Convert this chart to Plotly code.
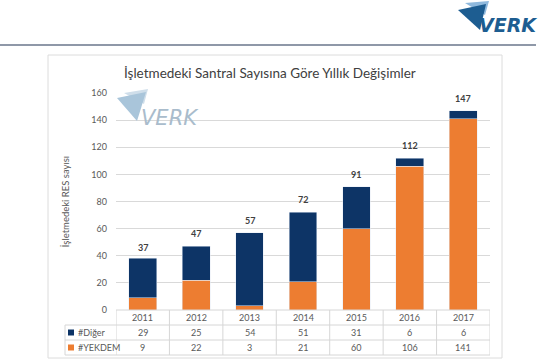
import plotly.graph_objects as go

years = ["2011", "2012", "2013", "2014", "2015", "2016", "2017"]
diger = [29, 25, 54, 51, 31, 6, 6]
yekdem = [9, 22, 3, 21, 60, 106, 141]
totals = [37, 47, 57, 72, 91, 112, 147]

title = "İşletmedeki Santral Sayısına Göre Yıllık Değişimler"
ytitle = "İşletmedeki RES sayısı"
series_names = ["#Diğer", "#YEKDEM"]

C_DIGER = "#0d3466"
C_YEK = "#ed7d31"
TXT = "#595959"
FONT = "Lato"

W, H = 544, 360
L, R, T, B = 116, 490, 93, 310  # plot area in pixels


def px(x):
    return (x - L) / (R - L)


def py(y):
    return (B - y) / (B - T)


def tri(pts):
    (a, b), (c, d), (e, f) = pts
    return f"M {px(a)} {py(b)} L {px(c)} {py(d)} L {px(e)} {py(f)} Z"


fig = go.Figure()
fig.add_trace(go.Bar(x=years, y=yekdem, name=series_names[1], marker_color=C_YEK,
                     width=0.52, showlegend=False))
fig.add_trace(go.Bar(x=years, y=diger, name=series_names[0], marker_color=C_DIGER,
                     width=0.52, showlegend=False))

shapes = []
# header line
shapes.append(dict(type="line", xref="paper", yref="paper", x0=px(0), x1=px(536),
                   y0=py(45), y1=py(45), line=dict(color="#8f98a8", width=2)))
# chart box
shapes.append(dict(type="rect", xref="paper", yref="paper", x0=px(48), x1=px(502),
                   y0=py(358), y1=py(55), line=dict(color="#dcdcdc", width=1)))

# table grid
grid = "#d6d6d6"
row_y = [310, 325, 340, 355]
for i, yy in enumerate(row_y):
    x0 = L if i == 0 else 65
    shapes.append(dict(type="line", xref="paper", yref="paper", x0=px(x0), x1=px(R),
                       y0=py(yy), y1=py(yy), line=dict(color=grid, width=1)))
for k in range(len(years) + 1):
    shapes.append(dict(type="line", xref="x", yref="paper", x0=k - 0.5, x1=k - 0.5,
                       y0=py(310), y1=py(355), line=dict(color=grid, width=1)))
shapes.append(dict(type="line", xref="paper", yref="paper", x0=px(65), x1=px(65),
                   y0=py(325), y1=py(355), line=dict(color=grid, width=1)))

# legend keys in table
for yy, c in [(332.5, C_DIGER), (347.5, C_YEK)]:
    shapes.append(dict(type="rect", xref="paper", yref="paper", x0=px(68), x1=px(74),
                       y0=py(yy + 3), y1=py(yy - 3), fillcolor=c, line=dict(width=0)))

# logo top right
shapes.append(dict(type="path", xref="paper", yref="paper",
                   path=tri([(465, 3), (489, 1), (485, 15)]),
                   fillcolor="#8fb9dd", line=dict(width=0)))
shapes.append(dict(type="path", xref="paper", yref="paper",
                   path=tri([(458, 10), (486, 4), (480, 30)]),
                   fillcolor="#1d5d91", line=dict(width=0)))
# watermark
shapes.append(dict(type="path", xref="paper", yref="paper",
                   path=tri([(124, 93), (148, 89), (144, 104)]),
                   fillcolor="#cfdeea", line=dict(width=0)))
shapes.append(dict(type="path", xref="paper", yref="paper",
                   path=tri([(117, 98), (146, 92), (137, 121)]),
                   fillcolor="#a9c5da", line=dict(width=0)))

ann = []


def text(t, x, y, size=9, color=TXT, xref="paper", xanchor="center", **fkw):
    ann.append(dict(text=t, xref=xref, yref="paper", x=x, y=y, xanchor=xanchor,
                    yanchor="middle", showarrow=False,
                    font=dict(family=fkw.pop("family", FONT), size=size, color=color, **fkw)))


text(title, px(270), py(73), size=13.5, color="#404040")
text("VERK", px(508), py(25), size=19, color="#1d5d91", family="DejaVu Sans",
     weight="bold", style="italic")
text("VERK", px(170), py(118), size=21, color="#a9bccc", family="DejaVu Sans",
     style="italic")
for i, yr in enumerate(years):
    text(yr, i, py(317.5), xref="x")
    text(str(diger[i]), i, py(332.5), xref="x")
    text(str(yekdem[i]), i, py(347.5), xref="x")
    ann.append(dict(text=str(totals[i]), xref="x", yref="y", x=i, y=totals[i],
                    xanchor="center", yanchor="bottom", yshift=5, showarrow=False,
                    font=dict(family=FONT, size=9, color="#404040", weight="bold")))
for yy, nm in [(332.5, series_names[0]), (347.5, series_names[1])]:
    text(nm, px(76), py(yy), xanchor="left")

fig.update_layout(
    width=W, height=H, barmode="stack",
    margin=dict(l=L, r=W - R, t=T, b=H - B, pad=0, autoexpand=False),
    paper_bgcolor="white", plot_bgcolor="white",
    shapes=shapes, annotations=ann, bargap=0.48,
    xaxis=dict(type="category", showticklabels=False, showgrid=False, zeroline=False,
               showline=False, ticks="", automargin=False, range=[-0.5, 6.5]),
    yaxis=dict(range=[0, 160], dtick=20, showgrid=True, gridcolor="#d9d9d9", gridwidth=1,
               zeroline=False, showline=False, ticks="", ticklabelstandoff=8,
               automargin=False,
               tickfont=dict(family=FONT, size=9, color=TXT),
               title=dict(text=ytitle, standoff=20,
                          font=dict(family=FONT, size=9.5, color=TXT))),
)

fig.write_html("out.html", config={"displayModeBar": False},
               post_script="document.body.style.margin='0';")
